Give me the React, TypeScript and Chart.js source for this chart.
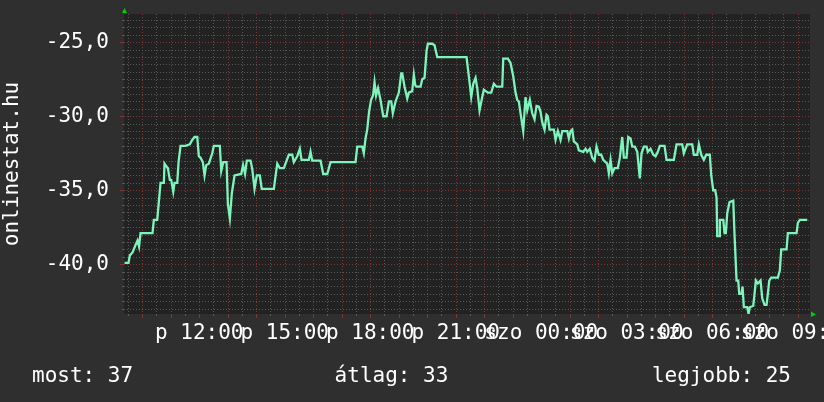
import { useEffect, useRef } from 'react';
import { Chart, registerables } from 'chart.js';

Chart.register(...registerables);

// time in hours since Friday 00:00
const times = [
  9.379, 9.519, 9.565, 9.66, 9.765, 9.835, 9.888, 9.94, 10.361, 10.407, 10.526, 10.582, 10.642, 10.758, 10.782, 10.853,
  10.898, 10.968, 11.017, 11.088, 11.133, 11.228, 11.274, 11.344, 11.519, 11.67, 11.754, 11.835, 11.93, 11.986, 12.046,
  12.126, 12.186, 12.246, 12.337, 12.456, 12.512, 12.723, 12.772, 12.842, 12.958, 13.004, 13.074, 13.144, 13.239, 13.474,
  13.537, 13.607, 13.67, 13.8, 13.86, 13.94, 14.021, 14.126, 14.193, 14.618, 14.653, 14.737, 14.828, 14.968, 15.144,
  15.263, 15.319, 15.439, 15.53, 15.59, 15.846, 15.905, 15.965, 16.256, 16.351, 16.491, 16.607, 17.484, 17.544, 17.719,
  17.775, 17.835, 17.894, 17.958, 18.028, 18.098, 18.151, 18.204, 18.274, 18.361, 18.456, 18.572, 18.653, 18.737, 18.793,
  18.888, 19.004, 19.088, 19.123, 19.204, 19.298, 19.354, 19.473, 19.53, 19.579, 19.625, 19.765, 19.824, 19.905, 19.975,
  20.021, 20.175, 20.256, 20.351, 21.379, 21.46, 21.544, 21.614, 21.695, 21.754, 21.835, 21.93, 21.986, 22.126, 22.246,
  22.337, 22.432, 22.632, 22.667, 22.828, 22.923, 23.017, 23.098, 23.158, 23.214, 23.274, 23.368, 23.449, 23.509, 23.6,
  23.684, 23.765, 23.835, 23.916, 23.975, 24.035, 24.116, 24.186, 24.232, 24.291, 24.442, 24.502, 24.583, 24.677, 24.737,
  24.912, 24.968, 25.028, 25.088, 25.144, 25.263, 25.319, 25.474, 25.554, 25.614, 25.705, 25.789, 25.87, 25.94, 26.021,
  26.105, 26.175, 26.256, 26.316, 26.372, 26.432, 26.492, 26.572, 26.688, 26.758, 26.842, 26.898, 26.993, 27.053, 27.133,
  27.193, 27.284, 27.368, 27.459, 27.519, 27.6, 27.695, 27.74, 27.835, 27.93, 28.011, 28.091, 28.161, 28.326, 28.396,
  28.653, 28.747, 28.947, 29.003, 29.122, 29.298, 29.354, 29.474, 29.53, 29.614, 29.705, 29.789, 29.915, 29.965, 30.035,
  30.105, 30.151, 30.175, 30.245, 30.267, 30.386, 30.432, 30.477, 30.526, 30.607, 30.737, 30.782, 30.853, 30.912, 30.947,
  31.028, 31.063, 31.109, 31.228, 31.274, 31.319, 31.439, 31.484, 31.53, 31.6, 31.695, 31.754, 31.835, 31.905, 31.951,
  32.0, 32.07, 32.302, 32.372, 32.421, 32.607, 32.653, 32.958, 33.004, 33.074, 33.333,
];

const values = [
  -39.9, -39.9, -39.4, -39.2, -38.7, -38.4, -38.8, -37.9, -37.9, -37.0, -37.0, -35.8, -34.5, -34.5, -33.2, -33.4,
  -33.5, -34.3, -34.3, -35.1, -34.5, -34.5, -33.1, -32.0, -32.0, -31.9, -31.6, -31.4, -31.4, -32.7, -32.8,
  -33.1, -34.0, -33.3, -33.2, -32.5, -32.0, -32.0, -33.7, -33.1, -33.1, -35.9, -36.9, -35.2, -34.0, -33.9,
  -33.3, -33.9, -33.0, -33.0, -33.55, -34.9, -34.0, -34.0, -34.9, -34.9, -34.4, -33.2, -33.5, -33.5, -32.6,
  -32.6, -33.1, -32.7, -32.2, -32.95, -32.95, -32.4, -33.0, -33.0, -33.9, -33.9, -33.1, -33.1, -32.05, -32.05,
  -32.5, -31.5, -30.9, -29.7, -28.9, -28.6, -27.7, -28.6, -28.1, -28.9, -30.0, -30.0, -29.0, -29.0, -29.8,
  -29.0, -28.4, -27.1, -27.1, -28.0, -28.8, -28.4, -28.3, -27.2, -27.9, -28.0, -28.0, -27.5, -27.4, -25.6,
  -25.1, -25.1, -25.2, -26.0, -26.0, -27.3, -28.7, -27.8, -27.4, -28.1, -29.6, -28.7, -28.2, -28.4, -28.4,
  -27.8, -28.0, -28.0, -26.1, -26.1, -26.4, -27.3, -28.4, -28.9, -29.0, -29.8, -31.0, -28.7, -29.6, -28.9,
  -29.8, -30.2, -29.3, -29.35, -29.7, -30.4, -30.9, -29.9, -30.0, -30.9, -30.9, -31.6, -31.0, -31.6, -31.0,
  -31.0, -31.5, -31.0, -30.9, -31.7, -31.9, -32.3, -32.4, -32.2, -32.4, -32.2, -32.8, -33.0, -32.05, -32.6,
  -32.6, -32.95, -33.1, -33.2, -33.85, -32.95, -33.85, -33.5, -33.5, -32.8, -31.4, -32.8, -32.8, -31.4, -31.5,
  -32.05, -32.05, -32.4, -34.2, -32.5, -32.05, -32.05, -32.4, -32.2, -32.6, -32.7, -32.4, -32.0, -32.0, -32.95,
  -32.95, -31.9, -31.9, -32.5, -31.9, -31.9, -32.6, -32.6, -31.9, -32.6, -32.95, -32.6, -32.6, -34.0, -35.0,
  -35.0, -35.5, -38.1, -38.1, -37.0, -37.0, -37.9, -37.9, -36.55, -35.8, -35.7, -38.0, -41.1, -41.1, -42.0,
  -42.0, -41.5, -42.9, -42.9, -43.35, -42.9, -42.8, -42.0, -41.1, -41.3, -41.1, -42.3, -42.75, -42.75, -42.0,
  -41.1, -40.9, -40.9, -40.4, -39.0, -39.0, -37.9, -37.9, -37.2, -37.0, -37.0,
];

const xTickHours = [12, 15, 18, 21, 24, 27, 30, 33];
const yTickValues = [-25, -30, -35, -40];
const dayPrefixes = ['p', 'szo'];
const footerTexts = ['most: 37', 'átlag: 33', 'legjobb: 25'];
const yAxisTitle = 'onlinestat.hu';

const X_MIN = 9.36;
const X_MAX = 33.43;
const Y_MIN = -43.36;
const Y_MAX = -23.09;

const FONT = '"DejaVu Sans Mono", monospace';
const OUTER_BG = '#2f2f2f';
const CANVAS_BG = '#222222';
const GRID = '#585858';
const MGRID = '#7a3838';
const LINE = '#7cf4bc';
const ARROW = '#00d000';

function fmtHour(v: number) {
  const day = Math.floor(v / 24);
  const h = Math.round(v - day * 24);
  return `${dayPrefixes[day]} ${String(h).padStart(2, '0')}:00`;
}

const rrdPlugin = {
  id: 'rrdLook',
  beforeDraw(chart: any) {
    const { ctx, chartArea: a, width, height } = chart;
    ctx.save();
    ctx.fillStyle = OUTER_BG;
    ctx.fillRect(0, 0, width, height);
    ctx.fillStyle = CANVAS_BG;
    ctx.fillRect(a.left, a.top, a.right - a.left, a.bottom - a.top);
    ctx.restore();
  },
  beforeDatasetsDraw(chart: any) {
    const { ctx, chartArea: a, scales } = chart;
    const xs = scales.x;
    const ys = scales.y;
    ctx.save();
    ctx.lineWidth = 1;
    // vertical grid, every half hour
    for (let t = Math.ceil(X_MIN * 2) / 2; t <= X_MAX; t += 0.5) {
      const major = Math.abs(t - Math.round(t)) < 1e-6;
      const px = Math.round(xs.getPixelForValue(t)) + 0.5;
      ctx.strokeStyle = major ? MGRID : GRID;
      ctx.setLineDash([1, 2]);
      ctx.beginPath();
      ctx.moveTo(px, a.top);
      ctx.lineTo(px, a.bottom);
      ctx.stroke();
      ctx.setLineDash([]);
      ctx.beginPath();
      ctx.moveTo(px, a.bottom);
      ctx.lineTo(px, a.bottom + (major ? 4 : 2));
      ctx.stroke();
    }
    // horizontal grid, every 0.5
    for (let v = Math.ceil(Y_MIN * 2) / 2; v <= Y_MAX; v += 0.5) {
      const major = Math.abs(v / 5 - Math.round(v / 5)) < 1e-6;
      const py = Math.round(ys.getPixelForValue(v)) + 0.5;
      ctx.strokeStyle = major ? MGRID : GRID;
      ctx.setLineDash([1, 2]);
      ctx.beginPath();
      ctx.moveTo(a.left, py);
      ctx.lineTo(a.right, py);
      ctx.stroke();
      ctx.setLineDash([]);
      ctx.beginPath();
      ctx.moveTo(a.left - (major ? 4 : 2), py);
      ctx.lineTo(a.left, py);
      ctx.stroke();
    }
    ctx.restore();
  },
  afterDraw(chart: any) {
    const { ctx, chartArea: a } = chart;
    ctx.save();
    // axes arrows
    ctx.fillStyle = ARROW;
    ctx.beginPath();
    ctx.moveTo(a.left - 2, a.top - 1);
    ctx.lineTo(a.left + 3, a.top - 1);
    ctx.lineTo(a.left + 0.5, a.top - 6);
    ctx.closePath();
    ctx.fill();
    ctx.beginPath();
    ctx.moveTo(a.right + 1, a.bottom - 2.5);
    ctx.lineTo(a.right + 1, a.bottom + 3);
    ctx.lineTo(a.right + 6, a.bottom + 0.5);
    ctx.closePath();
    ctx.fill();
    // footer legend
    ctx.fillStyle = '#ffffff';
    ctx.font = `21px ${FONT}`;
    ctx.textBaseline = 'alphabetic';
    ctx.textAlign = 'left';
    ctx.fillText(footerTexts[0], 32, 382);
    ctx.textAlign = 'center';
    ctx.fillText(footerTexts[1], 391.5, 382);
    ctx.textAlign = 'right';
    ctx.fillText(footerTexts[2], 791, 382);
    ctx.restore();
  },
};

export default function App() {
  const ref = useRef<HTMLCanvasElement | null>(null);

  useEffect(() => {
    if (!ref.current) return;
    const data = times.map((t, i) => ({ x: t, y: values[i] }));
    const chart = new Chart(ref.current, {
      type: 'line',
      data: {
        datasets: [
          {
            data,
            borderColor: LINE,
            borderWidth: 2.3,
            pointRadius: 0,
            tension: 0,
            fill: false,
          },
        ],
      },
      options: {
        animation: false,
        responsive: false,
        devicePixelRatio: 1,
        parsing: false,
        layout: { padding: { left: 0, top: 14, right: 14, bottom: 0 } },
        plugins: { legend: { display: false }, tooltip: { enabled: false }, title: { display: false } },
        scales: {
          x: {
            type: 'linear',
            min: X_MIN,
            max: X_MAX,
            grid: { display: false, drawTicks: false },
            border: { display: false },
            afterBuildTicks: (s: any) => {
              s.ticks = xTickHours.map((v) => ({ value: v }));
            },
            afterFit: (s: any) => {
              s.height = 88;
              s.paddingLeft = 0;
              s.paddingRight = 0;
            },
            ticks: {
              autoSkip: false,
              maxRotation: 0,
              minRotation: 0,
              padding: 7,
              color: '#ffffff',
              font: { family: FONT, size: 21 },
              callback: (v: any) => fmtHour(Number(v)),
            },
          },
          y: {
            type: 'linear',
            min: Y_MIN,
            max: Y_MAX,
            grid: { display: false, drawTicks: false },
            border: { display: false },
            afterBuildTicks: (s: any) => {
              s.ticks = yTickValues.map((v) => ({ value: v }));
            },
            afterFit: (s: any) => {
              s.width = 124;
              s.paddingTop = 0;
              s.paddingBottom = 0;
            },
            title: {
              display: true,
              text: yAxisTitle,
              color: '#ffffff',
              font: { family: FONT, size: 21 },
              padding: 0,
            },
            ticks: {
              padding: 15,
              color: '#ffffff',
              font: { family: FONT, size: 21 },
              callback: (v: any) => Number(v).toFixed(1).replace('.', ','),
            },
          },
        },
      },
      plugins: [rrdPlugin],
    });
    return () => chart.destroy();
  }, []);

  return (
    <div style={{ position: 'fixed', left: 0, top: 0, width: 824, height: 402, background: OUTER_BG }}>
      <canvas ref={ref} width={824} height={402} style={{ display: 'block', width: 824, height: 402 }} />
    </div>
  );
}
